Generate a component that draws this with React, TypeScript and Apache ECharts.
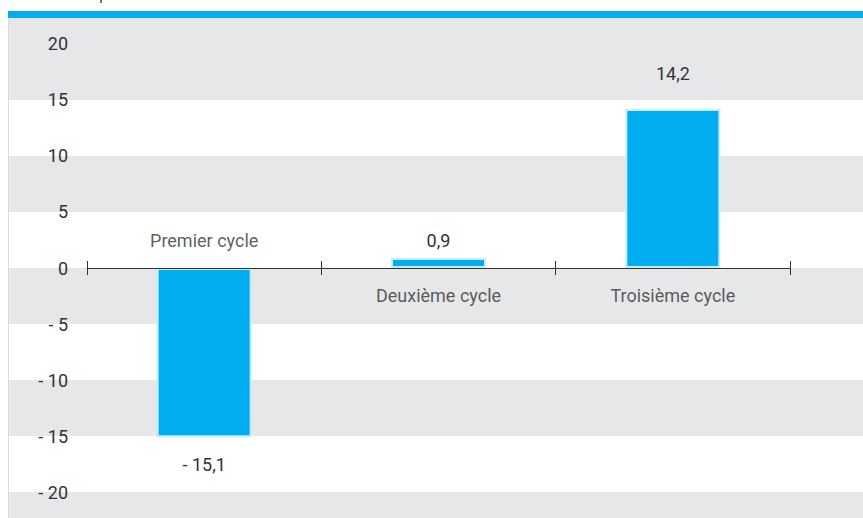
import React, { useEffect, useRef } from "react";
import * as echarts from "echarts";

const categories = ["Premier cycle", "Deuxième cycle", "Troisième cycle"];
const values = [-15.1, 0.9, 14.2];
const yTicks = [-20, -15, -10, -5, 0, 5, 10, 15, 20];
const yMin = -22.32;
const yMax = 22.32;
const bandRanges: [number, number][] = [
  [-22.32, -20],
  [-15, -10],
  [-5, 0],
  [5, 10],
  [15, 22.32],
];
const titleText = "Variation en points de PIB";

const FONT = "Roboto, 'Liberation Sans', sans-serif";
const FS = 18;
const TXT = "#333333";

const fmt = (v: number) =>
  (v < 0 ? "- " : "") + String(Math.abs(v)).replace(".", ",");

export default function App() {
  const ref = useRef<HTMLDivElement>(null);
  useEffect(() => {
    if (!ref.current) return;
    const chart = echarts.init(ref.current, null, { renderer: "svg" });
    const valueLabelDist = [18, 8, 26];
    const option: any = {
      animation: false,
      backgroundColor: "#ffffff",
      textStyle: { fontFamily: FONT },
      grid: [
        { left: 8, right: 0, top: 18, bottom: 0 },
        { left: 87, right: 73, top: 18, bottom: 0 },
        { left: 87, right: 73, top: 18, bottom: 250 },
      ],
      xAxis: [
        { gridIndex: 0, type: "value", min: 0, max: 1, show: false },
        {
          gridIndex: 1,
          type: "category",
          data: categories,
          z: 5,
          axisLine: { show: true, onZero: true, lineStyle: { color: TXT, width: 1 } },
          axisTick: { show: true, length: 7, lineStyle: { color: TXT, width: 1 } },
          axisLabel: { show: false },
          splitLine: { show: false },
        },
        {
          gridIndex: 2,
          type: "category",
          data: categories,
          z: 5,
          axisLine: { show: false, onZero: false },
          axisTick: { show: true, inside: true, length: 7, lineStyle: { color: TXT, width: 1 } },
          axisLabel: { show: false },
          splitLine: { show: false },
        },
      ],
      yAxis: [
        { gridIndex: 0, type: "value", min: yMin, max: yMax, show: false },
        {
          gridIndex: 1,
          type: "value",
          min: yMin,
          max: yMax,
          z: 10,
          axisLine: { show: false },
          axisTick: { show: false, customValues: yTicks },
          splitLine: { show: false },
          axisLabel: {
            customValues: yTicks,
            margin: 19,
            fontSize: FS,
            color: TXT,
            fontFamily: FONT,
            formatter: (v: number) => fmt(v),
          },
        },
        { gridIndex: 2, type: "value", min: 0, max: 1, show: false },
      ],
      series: [
        {
          type: "scatter",
          xAxisIndex: 0,
          yAxisIndex: 0,
          z: 0,
          symbolSize: 0,
          silent: true,
          data: [[0, 0]],
          markArea: {
            silent: true,
            itemStyle: { color: "#e6e7e8" },
            data: bandRanges.map(([a, b]) => [{ yAxis: a }, { yAxis: b }]),
          },
        },
        {
          type: "bar",
          xAxisIndex: 1,
          yAxisIndex: 1,
          z: 3,
          barWidth: 95,
          itemStyle: { color: "#00AEEF", borderColor: "#c8ecfb", borderWidth: 2 },
          label: {
            show: true,
            fontSize: FS,
            color: TXT,
            fontFamily: FONT,
            formatter: (p: any) => fmt(p.value),
          },
          data: values.map((v, i) => ({
            value: v,
            label: { position: v < 0 ? "bottom" : "top", distance: valueLabelDist[i] },
          })),
        },
        {
          type: "scatter",
          xAxisIndex: 1,
          yAxisIndex: 1,
          z: 4,
          symbolSize: 0,
          silent: true,
          label: {
            show: true,
            fontSize: FS,
            color: TXT,
            fontFamily: FONT,
            formatter: (p: any) => p.name,
          },
          data: categories.map((c, i) => ({
            name: c,
            value: [c, 0],
            label: { position: values[i] < 0 ? "top" : "bottom", distance: values[i] < 0 ? 19 : 18 },
          })),
        },
      ],
      graphic: [
        {
          type: "rect",
          shape: { x: 8, y: 11, width: 855, height: 7 },
          style: { fill: "#00AEEF" },
          z: 100,
        },
        {
          type: "line",
          shape: { x1: 8.5, y1: 18, x2: 8.5, y2: 518 },
          style: { stroke: "#dcdcdc", lineWidth: 1 },
          z: 100,
        },
        {
          type: "text",
          x: 16,
          y: -13,
          style: { text: titleText, fontSize: 15, fill: TXT, fontFamily: FONT, textVerticalAlign: "top" },
          z: 100,
        },
      ],
    };
    chart.setOption(option);
    return () => chart.dispose();
  }, []);
  return (
    <div
      ref={ref}
      style={{ position: "fixed", left: 0, top: 0, width: 863, height: 518 }}
    />
  );
}
